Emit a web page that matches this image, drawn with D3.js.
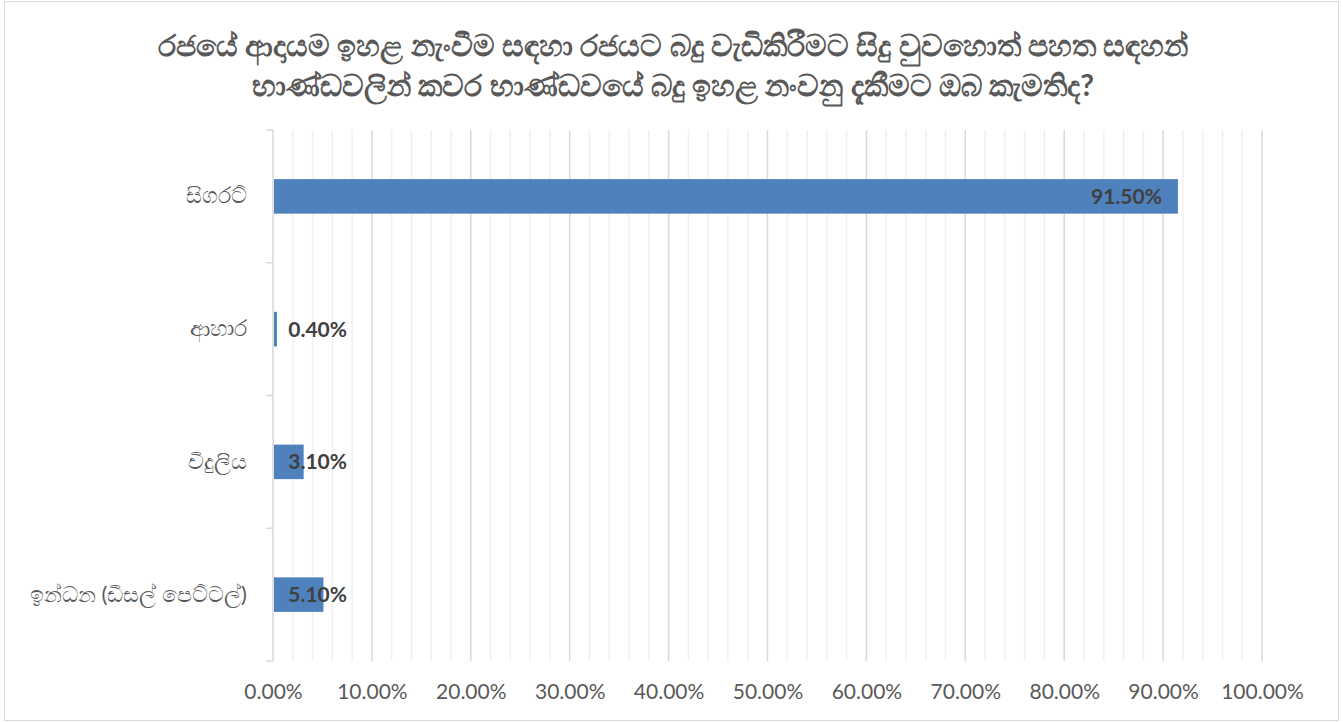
<!DOCTYPE html>
<html>
<head>
<meta charset="utf-8">
<script src="https://cdn.jsdelivr.net/npm/d3@7"></script>
<style>
  body { margin: 0; background: #fff; }
  svg text { font-family: Lato, "Open Sans", "Noto Sans", sans-serif; }
</style>
</head>
<body>
<div id="chart"></div>
<script>
// Data
const titleLines = [
    "රජයේ ආදායම ඉහළ නැංවීම සඳහා රජයට බදු වැඩිකිරීමට සිදු වුවහොත් පහත සඳහන්",
    "භාණ්ඩවලින් කවර භාණ්ඩවයේ බදු ඉහළ නංවනු දැකීමට ඔබ කැමතිද?"
];
const categories = ["සිගරට්", "ආහාර", "විදුලිය", "ඉන්ධන (ඩීසල් පෙට්ටල්)"];
const values = [91.5, 0.4, 3.1, 5.1];
const majorTicks = [0, 10, 20, 30, 40, 50, 60, 70, 80, 90, 100];

const width = 1343;
const height = 722;
const margin = { top: 130, right: 81, bottom: 61, left: 273 };

const svg = d3.select("#chart").append("svg")
    .attr("width", width)
    .attr("height", height);

// outer border
svg.append("rect")
    .attr("x", 4.5).attr("y", 1.5)
    .attr("width", width - 9).attr("height", height - 3)
    .attr("fill", "#fff")
    .attr("stroke", "#d9d9d9");

// title
svg.append("g").selectAll("text")
    .data(titleLines)
    .enter().append("text")
    .attr("x", 673)
    .attr("y", (d, i) => 56 + i * 40)
    .attr("text-anchor", "middle")
    .attr("font-size", 30)
    .attr("font-weight", "bold")
    .attr("fill", "#595959")
    .text(d => d);

const x = d3.scaleLinear()
    .domain([0, 100])
    .range([margin.left, width - margin.right]);

const y = d3.scaleBand()
    .domain(categories)
    .range([margin.top, height - margin.bottom])
    .paddingInner(0.74)
    .paddingOuter(0.37);

// minor gridlines every 2%
svg.append("g").selectAll("line")
    .data(d3.range(2, 101, 2).filter(v => v % 10 !== 0))
    .enter().append("line")
    .attr("x1", d => x(d)).attr("x2", d => x(d))
    .attr("y1", margin.top).attr("y2", height - margin.bottom)
    .attr("stroke", "#f0f0f0")
    .attr("stroke-width", 1.5);

// major gridlines
svg.append("g").selectAll("line")
    .data(majorTicks.slice(1))
    .enter().append("line")
    .attr("x1", d => x(d)).attr("x2", d => x(d))
    .attr("y1", margin.top).attr("y2", height - margin.bottom)
    .attr("stroke", "#d9d9d9")
    .attr("stroke-width", 1.5);

// category axis
const yAxis = d3.axisLeft(y).tickSize(0).tickPadding(26);
const gy = svg.append("g")
    .attr("transform", `translate(${margin.left},0)`)
    .call(yAxis);
gy.select(".domain").remove();
gy.selectAll("text")
    .attr("font-size", 22)
    .attr("fill", "#595959");

svg.append("line")
    .attr("x1", margin.left).attr("x2", margin.left)
    .attr("y1", margin.top).attr("y2", height - margin.bottom)
    .attr("stroke", "#d9d9d9")
    .attr("stroke-width", 1.5);

// band boundary tick marks
const bounds = d3.range(categories.length + 1).map(i => margin.top + i * (height - margin.top - margin.bottom) / categories.length);
svg.append("g").selectAll("line")
    .data(bounds)
    .enter().append("line")
    .attr("x1", margin.left - 7).attr("x2", margin.left)
    .attr("y1", d => d).attr("y2", d => d)
    .attr("stroke", "#d9d9d9")
    .attr("stroke-width", 1.5);

// value axis
const xAxis = d3.axisBottom(x)
    .tickValues(majorTicks)
    .tickSize(0)
    .tickPadding(23)
    .tickFormat(d => d.toFixed(2) + "%");
const gx = svg.append("g")
    .attr("transform", `translate(0,${height - margin.bottom})`)
    .call(xAxis);
gx.select(".domain").remove();
gx.selectAll("text")
    .attr("font-size", 21)
    .attr("fill", "#595959");

// bars
svg.append("g").selectAll("rect")
    .data(values)
    .enter().append("rect")
    .attr("x", x(0) + 1)
    .attr("y", (d, i) => y(categories[i]))
    .attr("width", d => Math.max(x(d) - x(0) - 1, 2))
    .attr("height", y.bandwidth())
    .attr("fill", "#4f81bd");

// labels
svg.append("g").selectAll("text")
    .data(values)
    .enter().append("text")
    .attr("x", d => Math.max(x(d) - 16, x(0) + 74))
    .attr("y", (d, i) => y(categories[i]) + y.bandwidth() / 2)
    .attr("dy", "0.36em")
    .attr("text-anchor", "end")
    .attr("font-size", 21)
    .attr("font-weight", "bold")
    .attr("fill", "#404040")
    .text(d => d.toFixed(2) + "%");
</script>
</body>
</html>
